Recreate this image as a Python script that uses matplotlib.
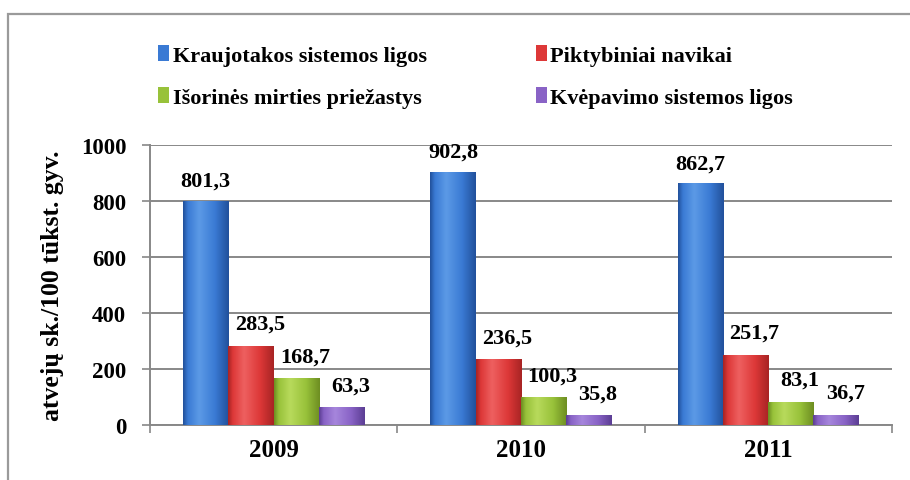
import numpy as np
import matplotlib
matplotlib.use("Agg")
from matplotlib import pyplot as plt
from matplotlib.colors import LinearSegmentedColormap
from matplotlib.patches import Rectangle

# duomenys
years = ["2009", "2010", "2011"]
series_names = ["Kraujotakos sistemos ligos", "Piktybiniai navikai",
                "Išorinės mirties priežastys", "Kvėpavimo sistemos ligos"]
kraujotakos = [801.3, 902.8, 862.7]
navikai = [283.5, 236.5, 251.7]
isorines = [168.7, 100.3, 83.1]
kvepavimo = [63.3, 35.8, 36.7]
y_ticks = [0, 200, 400, 600, 800, 1000]
y_label = "atvejų sk./100 tūkst. gyv."

# spalvos: tamsi, šviesi, vidurinė
shades = [("#22519c", "#5c9ae6", "#3a7ad4"),
          ("#a82424", "#ee6060", "#dd3838"),
          ("#6e8e22", "#b8da5c", "#98c23a"),
          ("#5c3e94", "#a686dc", "#8963c6")]
legend_colors = ["#3a7ad4", "#dd3838", "#98c23a", "#8963c6"]

FONT = ['Liberation Serif', 'DejaVu Serif']
plt.rcParams['font.family'] = FONT
plt.rcParams['font.weight'] = 'bold'

fig = plt.figure(figsize=(9.1, 4.81), dpi=100)
ax = fig.add_axes([0.1648, 0.1143, 0.8152, 0.5821])

# rėmelis aplink diagramą
fig.patches.append(Rectangle((8 / 910, -0.1), 1.2, 1 - 15 / 481 + 0.1,
                             transform=fig.transFigure, fill=False,
                             edgecolor="#9a9a9a", linewidth=1.6))

data = [kraujotakos, navikai, isorines, kvepavimo]
x = np.arange(len(years)) + 0.5
w = 0.183
for i, values in enumerate(data):
    pos = x + (i - 1.5) * w
    bars = ax.bar(pos, values, width=w, color=legend_colors[i],
                  label=series_names[i], zorder=3, linewidth=0)
    cmap = LinearSegmentedColormap.from_list(
        "g%d" % i, [(0.0, shades[i][0]), (0.1, shades[i][2]),
                    (0.35, shades[i][1]), (0.7, shades[i][2]),
                    (1.0, shades[i][0])])
    grad = np.linspace(0, 1, 64).reshape(1, -1)
    for b, v in zip(bars, values):
        x0, y0 = b.get_x(), b.get_y()
        im = ax.imshow(grad, cmap=cmap, aspect="auto", zorder=4,
                       extent=(x0, x0 + b.get_width(), y0, y0 + b.get_height()),
                       interpolation="bicubic")
        im.set_clip_path(b)
        dx = 0 if i == 0 else 6.5
        dy = 11 if i == 0 else 12
        ax.annotate(f"{v:.1f}".replace(".", ","), (b.get_x() + w / 2, v),
                    xytext=(dx, dy), textcoords="offset points",
                    ha="center", va="baseline", fontsize=16,
                    fontweight="bold", zorder=6)

ax.set_xlim(0, 3)
ax.set_ylim(0, 1000)
ax.set_yticks(y_ticks)
ax.set_yticklabels([str(t) for t in y_ticks], fontsize=16.5, fontweight="bold")
ax.set_xticks(x)
ax.set_xticklabels(years, fontsize=18, fontweight="bold")
ax.set_xticks([0, 1, 2, 3], minor=True)
ax.tick_params(axis="x", which="major", length=0, pad=9)
ax.tick_params(axis="x", which="minor", length=6, color="#888888", width=1.2)
ax.tick_params(axis="y", length=6, color="#888888", width=1.2, pad=11)
ax.set_ylabel(y_label, fontsize=18.5, fontweight="bold", labelpad=12)

ax.grid(axis="y", color="#888888", linewidth=1.4, zorder=0)
for s in ["top", "right"]:
    ax.spines[s].set_visible(False)
for s in ["left", "bottom"]:
    ax.spines[s].set_color("#888888")
    ax.spines[s].set_linewidth(1.4)

# legenda eilutėmis: pirmoje eilutėje 1 ir 2 serija
handles, labels = ax.get_legend_handles_labels()
order = [0, 2, 1, 3]
leg = fig.legend([handles[k] for k in order], [labels[k] for k in order],
                 ncol=2, loc="upper left",
                 bbox_to_anchor=(0.152, 0.945), frameon=False,
                 prop={"family": FONT, "size": 16, "weight": "bold"},
                 handlelength=0.5, handleheight=0.7, handletextpad=0.15,
                 columnspacing=4.9, labelspacing=0.95)

plt.savefig("out.png", dpi=100)
